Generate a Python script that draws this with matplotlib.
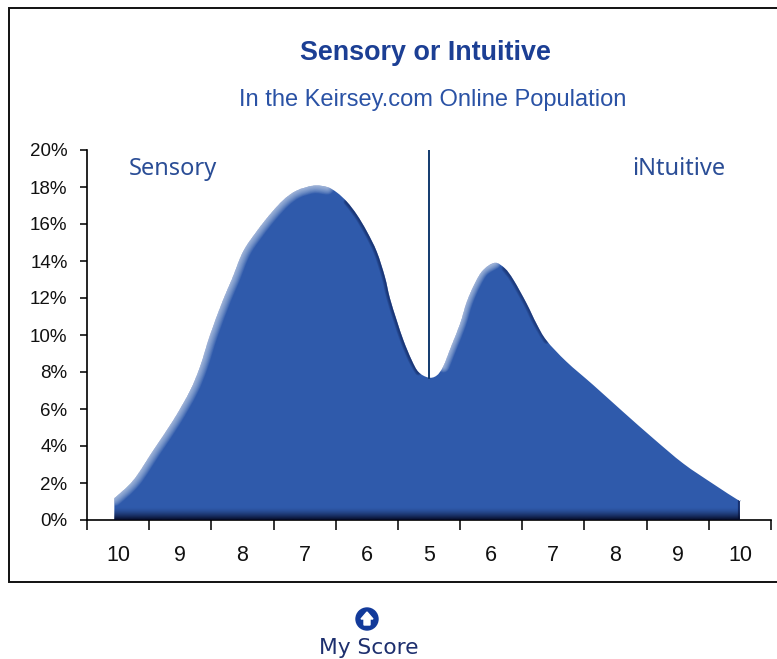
import numpy as np
import matplotlib
matplotlib.use("Agg")
import matplotlib.pyplot as plt
from matplotlib.patches import Circle, Polygon, PathPatch
from matplotlib.path import Path

# position on the score axis (0 = S10, 5 = midpoint, 10 = N10) and share in %
score_pos = [-0.06, 0.25, 0.57, 0.89, 1.16, 1.32, 1.48, 1.69, 1.83, 2.01, 2.23, 2.44, 2.66,
             2.87, 3.14, 3.36, 3.52, 3.68, 3.84, 4.0, 4.16, 4.29, 4.37, 4.48, 4.59, 4.72,
             4.83, 4.99, 5.12, 5.23, 5.36, 5.5, 5.61, 5.74, 5.87, 6.06, 6.22, 6.36, 6.57,
             6.73, 6.89, 7.21, 7.64, 8.12, 8.61, 9.09, 9.57, 9.97, 10.0]
share = [1.17, 2.16, 3.78, 5.4, 7.0, 8.3, 10.0, 11.9, 13.0, 14.5, 15.6, 16.5, 17.3,
         17.8, 18.07, 18.0, 17.7, 17.2, 16.5, 15.6, 14.5, 13.15, 12.0, 10.8, 9.7, 8.65,
         8.0, 7.7, 7.8, 8.3, 9.4, 10.6, 11.8, 12.8, 13.5, 13.9, 13.6, 12.97, 11.7,
         10.6, 9.7, 8.56, 7.3, 5.85, 4.4, 3.05, 1.95, 1.08, 1.08]

y_ticks = [0, 2, 4, 6, 8, 10, 12, 14, 16, 18, 20]
y_labels = ["0%", "2%", "4%", "6%", "8%", "10%", "12%", "14%", "16%", "18%", "20%"]
x_labels = ["10", "9", "8", "7", "6", "5", "6", "7", "8", "9", "10"]

W, H = 777, 659
FILL = "#2f5aab"
NAVY = "#1c3f94"


def curve_codes(xs, ys):
    # bezier segments through the read points (catmull-rom tangents)
    pts = np.column_stack([xs, ys])
    verts = [pts[0]]
    codes = [Path.MOVETO]
    for i in range(len(pts) - 1):
        before = pts[max(i - 1, 0)]
        after = pts[min(i + 2, len(pts) - 1)]
        verts += [pts[i] + (pts[i + 1] - before) / 6, pts[i + 1] - (after - pts[i]) / 6, pts[i + 1]]
        codes += [Path.CURVE4] * 3
    return verts, codes


plt.rcParams["font.family"] = "Liberation Sans"
fig = plt.figure(figsize=(W / 100, H / 100), dpi=100, facecolor="white")

# frame, icon and captions live in a pixel-sized overlay
bg = fig.add_axes([0, 0, 1, 1])
bg.set_xlim(0, W)
bg.set_ylim(H, 0)
bg.axis("off")
bg.plot([W, 9, 9, W], [8, 8, 582, 582], color="#111111", lw=1.4, solid_joinstyle="miter")

bg.text(425, 53, "Sensory or Intuitive", color=NAVY, fontsize=19.4, fontweight="bold",
        ha="center", va="center")
bg.text(432.5, 100, "In the Keirsey.com Online Population", color="#2a52a5", fontsize=17,
        ha="center", va="center")
bg.text(173, 169, "Sensory", color="#2a4d96", fontsize=17, ha="center", va="center", family="Noto Sans")
bg.text(679, 169, "iNtuitive", color="#2a4d96", fontsize=17, ha="center", va="center", family="Noto Sans")

bg.add_patch(Circle((367, 619), 11, color="#123a9a"))
bg.add_patch(Polygon([(367, 612), (373, 619), (370, 619), (370, 625), (364, 625), (364, 619), (361, 619)],
                     closed=True, color="white"))
bg.text(369, 648, "My Score", color="#1d2f6e", fontsize=15.7, ha="center", va="center",
        family="DejaVu Sans")

ax = fig.add_axes([87 / W, 1 - 520 / H, (771 - 87) / W, (520 - 150) / H])
ax.patch.set_alpha(0)

verts, codes = curve_codes(score_pos, share)
verts = [(score_pos[0], 0), (score_pos[0], share[0])] + verts[1:] + [(score_pos[-1], 0), (score_pos[0], 0)]
codes = [Path.MOVETO, Path.LINETO] + codes[1:] + [Path.LINETO, Path.CLOSEPOLY]
area = PathPatch(Path(verts, codes), fc=FILL, ec="none", zorder=2)
ax.add_patch(area)


def edge(a, b, color, lw, alpha):
    v, c = curve_codes(score_pos[a:b], share[a:b])
    p = PathPatch(Path(v, c), fc="none", ec=color, lw=lw, alpha=alpha, zorder=3, capstyle="round")
    ax.add_patch(p)
    p.set_clip_path(area)


# bevel: soft light edge on rising parts, thin dark edge on falling parts
for lw in np.arange(11, 0.5, -1.0):
    edge(0, 16, "#dfe6f5", lw, 0.085)
    edge(29, 36, "#dfe6f5", lw * 0.8, 0.085)
for lw in [5, 4, 3, 2]:
    edge(17, 27, "#0d1f55", lw, 0.2)
    edge(36, 41, "#0d1f55", lw, 0.17)

# dark band along the baseline
rgba = np.zeros((64, 1, 4))
rgba[..., :3] = matplotlib.colors.to_rgb("#050a25")
rgba[..., 3] = np.linspace(1, 0, 64).reshape(-1, 1) ** 1.5
img = ax.imshow(rgba, extent=(score_pos[0], score_pos[-1], 0, 0.7), origin="lower", aspect="auto", zorder=4)
img.set_clip_path(area)

# darker sliver at the right end
end = ax.plot([score_pos[-1], score_pos[-1]], [0, share[-1]], color="#0d1f55", lw=3, alpha=0.7, zorder=3)[0]
end.set_clip_path(area)

ax.plot([5, 5], [7.7, 20], color="#123a6e", lw=1.4, zorder=5)

ax.set_xlim(-0.5, 10.5)
ax.set_ylim(0, 20)
for s in ["top", "right"]:
    ax.spines[s].set_visible(False)
ax.spines["left"].set_linewidth(1.2)
ax.spines["bottom"].set_linewidth(1.2)
ax.set_yticks(y_ticks)
ax.set_yticklabels(y_labels)
ax.set_xticks(np.arange(11))
ax.set_xticklabels(x_labels)
ax.set_xticks(np.arange(-0.5, 11), minor=True)
ax.tick_params(axis="x", which="major", length=0, pad=18, labelsize=15.5, colors="#111111")
ax.tick_params(axis="x", which="minor", length=7, width=1.2, direction="out", color="#111111")
ax.tick_params(axis="y", length=5, width=1.2, pad=9, labelsize=13.5, colors="#111111")

fig.savefig("out.png", dpi=100)
